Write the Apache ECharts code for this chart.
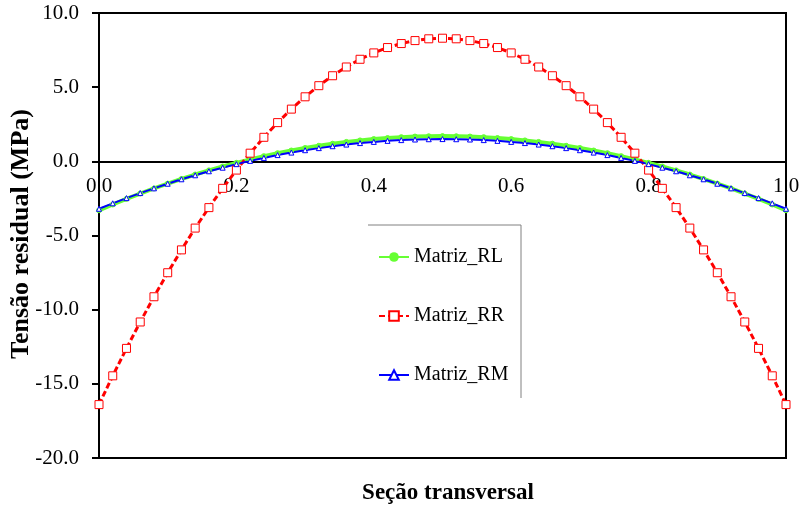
<!DOCTYPE html>
<html>
<head>
<meta charset="utf-8">
<script src="https://cdn.jsdelivr.net/npm/echarts@6/dist/echarts.min.js"></script>
<style>
  html, body { margin: 0; padding: 0; background: #fff; }
  #grafico { width: 801px; height: 507px; }
</style>
</head>
<body>
<div id="grafico"></div>
<script>
// posicao na secao (0 a 1)
var posicoes = [0.00, 0.02, 0.04, 0.06, 0.08, 0.10, 0.12, 0.14, 0.16, 0.18, 0.20,
  0.22, 0.24, 0.26, 0.28, 0.30, 0.32, 0.34, 0.36, 0.38, 0.40, 0.42, 0.44, 0.46, 0.48, 0.50,
  0.52, 0.54, 0.56, 0.58, 0.60, 0.62, 0.64, 0.66, 0.68, 0.70, 0.72, 0.74, 0.76, 0.78, 0.80,
  0.82, 0.84, 0.86, 0.88, 0.90, 0.92, 0.94, 0.96, 0.98, 1.00];

var matrizRL = [-3.30, -2.91, -2.53, -2.17, -1.83, -1.50, -1.19, -0.89, -0.61, -0.35, -0.10,
  0.13, 0.35, 0.55, 0.73, 0.90, 1.05, 1.19, 1.31, 1.41, 1.50, 1.57, 1.63, 1.67, 1.69, 1.70,
  1.69, 1.67, 1.63, 1.57, 1.50, 1.41, 1.31, 1.19, 1.05, 0.90, 0.73, 0.55, 0.35, 0.13, -0.10,
  -0.35, -0.61, -0.89, -1.19, -1.50, -1.83, -2.17, -2.53, -2.91, -3.30];

var matrizRR = [-16.40, -14.46, -12.61, -10.83, -9.13, -7.51, -5.97, -4.50, -3.12, -1.82, -0.59,
  0.55, 1.62, 2.61, 3.52, 4.35, 5.10, 5.77, 6.36, 6.88, 7.31, 7.67, 7.94, 8.14, 8.26, 8.30,
  8.26, 8.14, 7.94, 7.67, 7.31, 6.88, 6.36, 5.77, 5.10, 4.35, 3.52, 2.61, 1.62, 0.55, -0.59,
  -1.82, -3.12, -4.50, -5.97, -7.51, -9.13, -10.83, -12.61, -14.46, -16.40];

var matrizRM = [-3.20, -2.83, -2.48, -2.14, -1.82, -1.51, -1.21, -0.94, -0.67, -0.43, -0.19,
  0.03, 0.23, 0.42, 0.59, 0.75, 0.89, 1.02, 1.13, 1.23, 1.31, 1.38, 1.43, 1.47, 1.49, 1.50,
  1.49, 1.47, 1.43, 1.38, 1.31, 1.23, 1.13, 1.02, 0.89, 0.75, 0.59, 0.42, 0.23, 0.03, -0.19,
  -0.43, -0.67, -0.94, -1.21, -1.51, -1.82, -2.14, -2.48, -2.83, -3.20];

function pares (ys) {
  return posicoes.map(function (x, i) { return [x, ys[i]]; });
}

var fonte = '"Liberation Serif", "Times New Roman", serif';

var chartDom = document.getElementById('grafico');
var myChart = echarts.init(chartDom);
var option;

// grid: top 13, altura 445 -> y=0 fica a 1/3 da altura
var offsetZero = -(445 * 2 / 3);

option = {
  animation: false,
  textStyle: { fontFamily: fonte },
  grid: {
    left: 99, right: 15, top: 13, bottom: 49,
    outerBoundsMode: 'none',
    containLabel: false,
    show: true, borderColor: '#000', borderWidth: 2
  },
  legend: {
    orient: 'vertical',
    left: 378,
    top: 247,
    padding: 0,
    itemGap: 39,
    itemWidth: 30,
    itemHeight: 12,
    textStyle: { fontFamily: fonte, fontSize: 20, color: '#000' },
    data: ['Matriz_RL', 'Matriz_RR', 'Matriz_RM']
  },
  xAxis: {
    type: 'value',
    min: 0, max: 1, interval: 0.2,
    position: 'bottom',
    offset: offsetZero,
    axisLine: { onZero: false, lineStyle: { color: '#000', width: 2 } },
    axisTick: { show: false },
    splitLine: { show: false },
    axisLabel: {
      color: '#000', fontSize: 21, fontFamily: fonte, margin: 15,
      formatter: function (v) { return v.toFixed(1); }
    }
  },
  yAxis: {
    type: 'value',
    min: -20, max: 10, interval: 5,
    axisLine: { show: true, onZero: false, lineStyle: { color: '#000', width: 2 } },
    axisTick: { show: true, length: 7, lineStyle: { color: '#000', width: 2 } },
    splitLine: { show: false },
    axisLabel: {
      color: '#000', fontSize: 21, fontFamily: fonte, margin: 20,
      formatter: function (v) { return v.toFixed(1); }
    }
  },
  graphic: [
    {
      type: 'text',
      style: {
        text: 'Seção transversal', font: 'bold 23px ' + fonte, fill: '#000',
        x: 448, y: 493, align: 'center', verticalAlign: 'middle'
      }
    },
    {
      type: 'text',
      x: 21, y: 234,
      rotation: Math.PI / 2,
      style: {
        text: 'Tensão residual (MPa)', font: 'bold 26px ' + fonte, fill: '#000',
        x: 0, y: 0, align: 'center', verticalAlign: 'middle'
      }
    },
    {
      type: 'polyline',
      shape: { points: [[368, 225], [521, 225], [521, 398]] },
      style: { stroke: '#808080', lineWidth: 1, fill: null }
    }
  ],
  series: [
    {
      name: 'Matriz_RL',
      type: 'line',
      data: pares(matrizRL),
      symbol: 'circle',
      symbolSize: 5,
      lineStyle: { color: '#66ff33', width: 4 },
      itemStyle: { color: '#66ff33', borderColor: '#66ff33' }
    },
    {
      name: 'Matriz_RR',
      type: 'line',
      data: pares(matrizRR),
      symbol: 'rect',
      symbolSize: 8,
      lineStyle: { color: '#ff0000', width: 3, type: [6, 3] },
      itemStyle: { color: '#fff', borderColor: '#ff0000', borderWidth: 1 }
    },
    {
      name: 'Matriz_RM',
      type: 'line',
      data: pares(matrizRM),
      symbol: 'triangle',
      symbolSize: 5,
      lineStyle: { color: '#0000ff', width: 2 },
      itemStyle: { color: '#fff', borderColor: '#0000ff', borderWidth: 1 }
    }
  ]
};

option && myChart.setOption(option);
</script>
</body>
</html>
